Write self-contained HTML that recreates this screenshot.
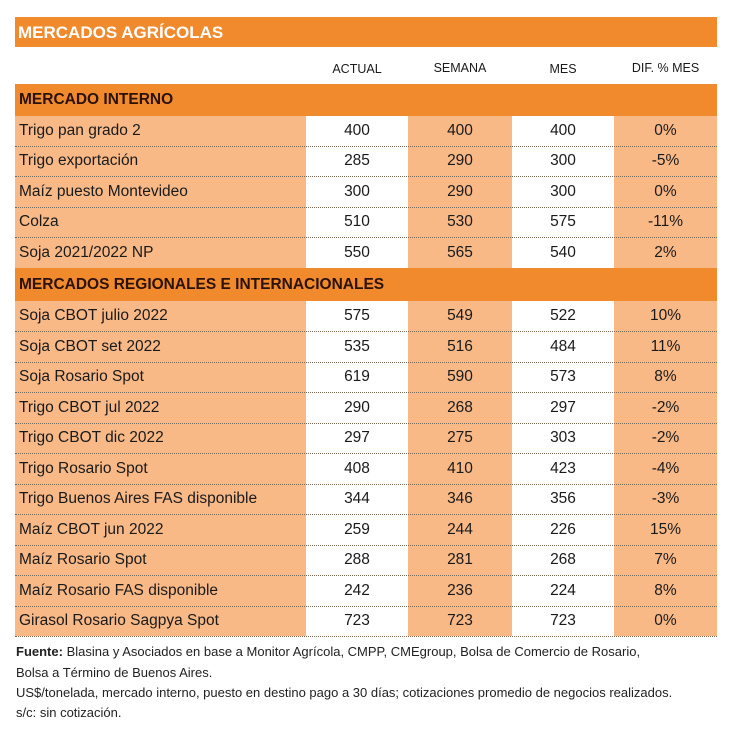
<!DOCTYPE html><html><head><meta charset="utf-8"><style>
body{margin:0;width:736px;height:742px;background:#fff;position:relative;font-family:"Liberation Sans Narrow","Liberation Sans",sans-serif;color:#1a1a1a;overflow:hidden}
.a{position:absolute}
.bar{position:absolute;left:15px;width:702px;background:#f08a2c}
.row{position:absolute;left:15px;width:702px;height:31px;font-size:15.5px}
.row div{position:absolute;top:0;height:31px;line-height:30px}
.l{left:0;width:291px;background:#f8b987;padding-left:4px;box-sizing:border-box}
.c1{left:291px;width:102px;background:#fff;text-align:center}
.c2{left:393px;width:104px;background:#f8b987;text-align:center}
.c3{left:497px;width:102px;background:#fff;text-align:center}
.c4{left:599px;width:103px;background:#f8b987;text-align:center}
.ln{position:absolute;left:15px;width:702px;height:0;border-top:1px dotted #7a6a5a;z-index:2}
.h{position:absolute;top:62px;font-size:12.5px;text-align:center}
.sec{font-weight:bold;font-size:15.5px;color:#2a1208;padding-left:4px;box-sizing:border-box}
.f{position:absolute;left:16px;font-size:13px;color:#222}
</style></head><body>
<div class="bar" style="top:17px;height:30px"><span class="a" style="left:3px;top:6px;color:#fff;font-weight:bold;font-size:17px">MERCADOS AGRÍCOLAS</span></div>
<div class="h" style="left:306px;width:102px">ACTUAL</div>
<div class="h" style="left:408px;width:104px;top:61px">SEMANA</div>
<div class="h" style="left:512px;width:102px">MES</div>
<div class="h" style="left:614px;width:103px;top:61px">DIF. % MES</div>
<div class="bar sec" style="top:84px;height:32px;line-height:32px">MERCADO INTERNO</div>
<div class="row" style="top:116px"><div class="l">Trigo pan grado 2</div><div class="c1">400</div><div class="c2">400</div><div class="c3">400</div><div class="c4">0%</div></div>
<div class="row" style="top:146px"><div class="l">Trigo exportación</div><div class="c1">285</div><div class="c2">290</div><div class="c3">300</div><div class="c4">-5%</div></div>
<div class="row" style="top:177px"><div class="l">Maíz puesto Montevideo</div><div class="c1">300</div><div class="c2">290</div><div class="c3">300</div><div class="c4">0%</div></div>
<div class="row" style="top:207px"><div class="l">Colza</div><div class="c1">510</div><div class="c2">530</div><div class="c3">575</div><div class="c4">-11%</div></div>
<div class="row" style="top:238px"><div class="l">Soja 2021/2022 NP</div><div class="c1">550</div><div class="c2">565</div><div class="c3">540</div><div class="c4">2%</div></div>
<div class="ln" style="top:146px"></div><div class="ln" style="top:176px"></div><div class="ln" style="top:207px"></div><div class="ln" style="top:237px"></div>
<div class="bar sec" style="top:268px;height:33px;line-height:33px">MERCADOS REGIONALES E INTERNACIONALES</div>
<div class="row" style="top:301px"><div class="l">Soja CBOT julio 2022</div><div class="c1">575</div><div class="c2">549</div><div class="c3">522</div><div class="c4">10%</div></div>
<div class="row" style="top:332px"><div class="l">Soja CBOT set 2022</div><div class="c1">535</div><div class="c2">516</div><div class="c3">484</div><div class="c4">11%</div></div>
<div class="row" style="top:362px"><div class="l">Soja Rosario Spot</div><div class="c1">619</div><div class="c2">590</div><div class="c3">573</div><div class="c4">8%</div></div>
<div class="row" style="top:393px"><div class="l">Trigo CBOT jul 2022</div><div class="c1">290</div><div class="c2">268</div><div class="c3">297</div><div class="c4">-2%</div></div>
<div class="row" style="top:423px"><div class="l">Trigo CBOT dic 2022</div><div class="c1">297</div><div class="c2">275</div><div class="c3">303</div><div class="c4">-2%</div></div>
<div class="row" style="top:454px"><div class="l">Trigo Rosario Spot</div><div class="c1">408</div><div class="c2">410</div><div class="c3">423</div><div class="c4">-4%</div></div>
<div class="row" style="top:484px"><div class="l">Trigo Buenos Aires FAS disponible</div><div class="c1">344</div><div class="c2">346</div><div class="c3">356</div><div class="c4">-3%</div></div>
<div class="row" style="top:515px"><div class="l">Maíz CBOT jun 2022</div><div class="c1">259</div><div class="c2">244</div><div class="c3">226</div><div class="c4">15%</div></div>
<div class="row" style="top:545px"><div class="l">Maíz Rosario Spot</div><div class="c1">288</div><div class="c2">281</div><div class="c3">268</div><div class="c4">7%</div></div>
<div class="row" style="top:576px"><div class="l">Maíz Rosario FAS disponible</div><div class="c1">242</div><div class="c2">236</div><div class="c3">224</div><div class="c4">8%</div></div>
<div class="row" style="top:606px;height:30px"><div class="l" style="height:30px">Girasol Rosario Sagpya Spot</div><div class="c1" style="height:30px">723</div><div class="c2" style="height:30px">723</div><div class="c3" style="height:30px">723</div><div class="c4" style="height:30px">0%</div></div>
<div class="ln" style="top:331px"></div><div class="ln" style="top:362px"></div><div class="ln" style="top:392px"></div><div class="ln" style="top:423px"></div><div class="ln" style="top:453px"></div><div class="ln" style="top:484px"></div><div class="ln" style="top:514px"></div><div class="ln" style="top:545px"></div><div class="ln" style="top:575px"></div><div class="ln" style="top:606px"></div><div class="ln" style="top:636px"></div>
<div class="f" style="top:644px"><b>Fuente:</b> Blasina y Asociados en base a Monitor Agrícola, CMPP, CMEgroup, Bolsa de Comercio de Rosario,</div>
<div class="f" style="top:665px">Bolsa a Término de Buenos Aires.</div>
<div class="f" style="top:685px">US$/tonelada, mercado interno, puesto en destino pago a 30 días; cotizaciones promedio de negocios realizados.</div>
<div class="f" style="top:705px">s/c: sin cotización.</div>
</body></html>
